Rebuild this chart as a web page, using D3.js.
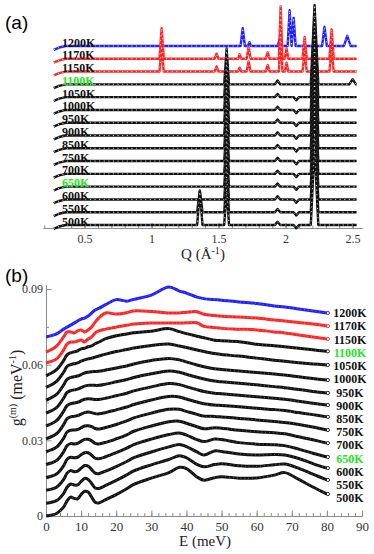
<!DOCTYPE html>
<html>
<head>
<meta charset="utf-8">
<script src="https://cdn.jsdelivr.net/npm/d3@7"></script>
<style>
  body { margin: 0; background: #fff; }
  svg { display: block; font-family: "Liberation Serif", "Times New Roman", serif; }
  .axis path, .axis line { stroke: #8c8c8c; stroke-width: 1; }
  .axis text { fill: #333; font-family: "Liberation Serif", serif; }
</style>
</head>
<body>
<main></main>
<script>
// temperatures, top curve first
const temps = ["1200K", "1170K", "1150K", "1100K", "1050K", "1000K", "950K", "900K", "850K", "750K", "700K", "650K", "600K", "550K", "500K"];
const highlight = ["1100K", "650K"];

// ---- panel (a): diffraction patterns, peaks as [Q, height, half width] ----
const qTail = [[0.27, -0.3], [0.31, -0.12], [0.36, 0]];
const qEnd = 2.53;
const offsetsA = [14, 13, 12, 11, 10, 9, 8, 7, 6, 5, 4, 3, 2, 1, 0];
const qTicks = [0.5, 1, 1.5, 2, 2.5];

const peaksBlue = [[1.68, 1.4, 0.016], [1.73, 0.3, 0.012], [1.955, 0.5, 0.015], [2.03, 2.8, 0.015], [2.06, 2.2, 0.015], [2.29, 1.5, 0.018], [2.46, 0.8, 0.025]];
const peaks1170 = [[1.075, 2.4, 0.016], [1.485, 0.4, 0.015], [1.657, 0.35, 0.012], [1.724, 0.9, 0.015], [1.866, 0.5, 0.015], [1.963, 4.1, 0.013], [2.007, 0.8, 0.013], [2.142, 1.7, 0.016], [2.343, 2.3, 0.016]];
const peaks1150 = [[1.075, 2.0, 0.016], [1.485, 0.4, 0.015], [1.657, 0.3, 0.012], [1.724, 0.8, 0.015], [1.866, 0.5, 0.015], [1.963, 3.2, 0.013], [2.007, 0.7, 0.013], [2.142, 1.5, 0.016], [2.343, 1.8, 0.016]];
const peaks1100 = [[1.56, 2.8, 0.018], [1.94, 0.3, 0.02], [2.216, 6.2, 0.028], [2.50, 0.4, 0.025]];
const peaksBlack = [[1.56, 2.8, 0.018], [1.94, 0.25, 0.02], [2.08, -0.25, 0.02], [2.216, 6.2, 0.028]];
const peaks550 = [[1.36, 1.7, 0.02], [1.56, 2.8, 0.018], [1.94, 0.25, 0.02], [2.08, -0.25, 0.02], [2.216, 6.2, 0.028]];
const peaks500 = [[1.36, 2.6, 0.02], [1.56, 2.8, 0.018], [1.94, 0.25, 0.02], [2.08, -0.25, 0.02], [2.216, 6.2, 0.028]];
const peaksA = [peaksBlue, peaks1170, peaks1150, peaks1100, peaksBlack, peaksBlack, peaksBlack, peaksBlack, peaksBlack, peaksBlack, peaksBlack, peaksBlack, peaksBlack, peaks550, peaks500];

// ---- panel (b): g(E) in 1e-3 meV^-1, before vertical offset ----
const eGrid = [0, 3, 5, 6, 7, 8, 9, 10, 11, 12, 13, 14, 15, 17, 20, 23, 25, 30, 35, 38, 40, 43, 45, 48, 50, 55, 60, 65, 68, 72, 76, 80];
const g1200 = [0, 1.2, 3.1, 3.9, 4.7, 5.5, 6.3, 7.1, 7.5, 8.3, 9.5, 10.7, 11.3, 12.8, 14.8, 14.2, 14.9, 16.6, 19.8, 18.2, 17.4, 15.8, 15.2, 14.8, 14.6, 13.9, 13.3, 12.3, 11.9, 11.1, 10.3, 9.5];
const g1170 = [0, 2.4, 6.0, 8.0, 8.0, 7.6, 8.4, 8.8, 8.0, 8.8, 9.9, 11.9, 13.5, 15.5, 15.1, 15.6, 16.3, 16.1, 15.5, 15.5, 15.8, 16.0, 15.0, 14.5, 14.2, 13.9, 13.5, 12.7, 12.3, 11.7, 11.1, 10.3];
const g1150 = [0, 1.6, 5.1, 7.5, 8.3, 8.3, 8.7, 9.1, 8.3, 9.5, 10.3, 11.9, 12.7, 13.4, 14.2, 14.9, 15.4, 15.8, 15.8, 15.8, 15.9, 15.9, 14.5, 14.0, 13.7, 13.4, 13.1, 12.3, 11.9, 11.1, 10.3, 9.5];
const g1100 = [0, 2.4, 6.0, 8.3, 9.1, 9.5, 9.9, 10.7, 10.9, 11.5, 11.9, 12.7, 13.3, 14.7, 15.9, 16.6, 17.1, 17.7, 18.7, 17.5, 16.7, 15.7, 15.1, 14.1, 13.9, 13.5, 12.5, 11.9, 11.5, 10.9, 10.3, 9.7];
const g1050 = [0, 2.4, 6.0, 8.3, 9.0, 9.4, 9.7, 10.4, 10.9, 11.3, 11.6, 12.0, 12.4, 13.2, 14.2, 15.0, 15.6, 16.6, 17.2, 16.4, 15.8, 14.8, 14.2, 13.4, 13.0, 12.4, 11.6, 10.8, 10.4, 9.8, 9.3, 8.9];
const g1000 = [0, 2.3, 6.0, 8.3, 9.0, 9.3, 9.6, 10.2, 10.8, 11.1, 11.3, 11.4, 11.5, 12.0, 12.8, 13.6, 14.4, 15.8, 16.6, 16.0, 15.2, 14.0, 13.3, 12.5, 12.2, 11.6, 11.0, 10.4, 10.0, 9.3, 8.6, 8.0];
const g950 = [0, 2.2, 5.9, 8.2, 8.9, 9.2, 9.5, 10.1, 10.7, 11.0, 11.0, 11.0, 11.0, 11.5, 12.4, 13.3, 14.1, 15.6, 16.7, 16.2, 15.4, 14.2, 13.5, 12.7, 12.4, 11.8, 11.2, 10.5, 10.1, 9.4, 8.6, 8.0];
const g900 = [0, 2.1, 5.8, 8.1, 8.8, 9.1, 9.4, 10.0, 10.6, 10.8, 10.7, 10.5, 10.5, 11.0, 12.0, 13.0, 13.9, 15.5, 16.8, 16.4, 15.6, 14.4, 13.7, 13.0, 12.8, 12.2, 11.6, 11.0, 10.6, 9.8, 9.0, 8.3];
const g850 = [0, 2.0, 5.6, 8.0, 8.7, 8.9, 9.2, 9.8, 10.4, 10.6, 10.4, 10.0, 9.9, 10.4, 11.5, 12.6, 13.6, 15.4, 16.8, 16.6, 15.8, 14.6, 13.9, 13.4, 13.2, 12.7, 12.1, 11.6, 11.2, 10.4, 9.6, 8.7];
const g750 = [0, 1.8, 5.3, 7.8, 8.5, 8.6, 8.8, 9.5, 10.2, 10.3, 9.9, 9.2, 9.0, 9.6, 10.8, 12.2, 13.4, 15.3, 16.8, 16.8, 16.0, 14.8, 14.1, 14.0, 13.8, 13.2, 12.6, 12.0, 11.6, 10.8, 9.8, 8.6];
const g700 = [0, 1.6, 5.0, 7.5, 8.3, 8.2, 8.4, 9.2, 10.0, 10.0, 9.4, 8.4, 8.2, 8.8, 10.2, 11.8, 13.2, 15.3, 17.0, 17.2, 16.4, 15.0, 14.2, 14.6, 14.4, 13.6, 13.0, 12.6, 12.2, 11.0, 9.8, 8.5];
const g650 = [0, 1.4, 4.6, 7.2, 8.0, 7.8, 8.0, 9.0, 9.8, 9.8, 8.8, 7.6, 7.4, 8.2, 9.8, 11.6, 13.0, 15.2, 17.0, 17.6, 16.8, 15.0, 14.2, 15.2, 15.0, 13.8, 13.2, 13.0, 12.6, 11.2, 9.6, 8.1];
const g600 = [0, 1.2, 4.2, 6.8, 7.8, 7.4, 7.6, 8.8, 9.8, 9.6, 8.2, 6.8, 6.6, 7.6, 9.4, 11.4, 12.9, 15.2, 17.2, 18.2, 17.3, 15.2, 14.0, 15.6, 15.4, 14.4, 14.0, 14.2, 14.0, 12.6, 10.6, 8.8];
const g550 = [0, 1.0, 3.8, 6.3, 7.6, 7.2, 7.2, 8.6, 9.8, 9.4, 7.8, 6.0, 5.8, 7.0, 9.0, 11.2, 12.8, 15.2, 17.3, 18.8, 18.0, 15.4, 14.4, 15.3, 15.6, 14.8, 14.6, 15.2, 15.5, 13.8, 11.5, 9.2];
const g500 = [0, 1.0, 3.5, 6.0, 7.5, 7.0, 6.8, 8.5, 9.8, 9.5, 7.5, 5.5, 5.2, 6.5, 8.5, 10.8, 12.5, 15.0, 17.2, 19.3, 18.8, 15.5, 14.2, 15.2, 15.6, 15.0, 15.1, 16.2, 17.2, 14.5, 11.5, 8.7];
const gSeries = [g1200, g1170, g1150, g1100, g1050, g1000, g950, g900, g850, g750, g700, g650, g600, g550, g500];
const offsetsB = [71.0, 65.0, 60.7, 55.6, 51.0, 45.9, 40.8, 35.7, 30.6, 25.5, 20.4, 15.3, 10.2, 5.1, 0];
const gTicks = [0, 30, 60, 90];
const gMinor = [15, 45, 75];
const eTicks = [0, 10, 20, 30, 40, 50, 60, 70, 80, 90];

const lineColor = (t) => t === "1200K" ? "#1f1fff" : (t === "1170K" || t === "1150K") ? "#ff2424" : "#111";
const labelColor = (t) => highlight.includes(t) ? "#22e622" : "#111";

let svg;

const createCanvas = () => {
  return d3.select("main")
           .append("svg")
           .attr("width", 374)
           .attr("height", 554)
           .style("background", "#fff");
};

// stick pattern: baseline with triangular peaks
const buildPattern = (peaks) => {
  const pts = qTail.slice();
  peaks.slice().sort((a, b) => a[0] - b[0]).forEach(([q, h, w]) => {
    pts.push([q - w, 0], [q, h], [q + w, 0]);
  });
  pts.push([qEnd, 0]);
  return pts;
};

const createPanelA = () => {
  const x = d3.scaleLinear().domain([0.19, 2.57]).range([43, 362]);
  const y = d3.scaleLinear().domain([0, 14]).range([225, 46]);
  const g = svg.append("g").attr("id", "panel-a");

  g.append("text")
    .attr("x", 5).attr("y", 29)
    .style("font-family", "'Liberation Sans', Arial, sans-serif")
    .style("font-size", "19px")
    .text("(a)");

  const axisY = 228;
  g.append("g")
    .attr("class", "axis")
    .attr("transform", "translate(0," + axisY + ")")
    .call(d3.axisBottom(x).ticks(24).tickSize(-2.5).tickSizeOuter(0).tickFormat(""));
  g.append("g")
    .attr("class", "axis")
    .attr("transform", "translate(0," + axisY + ")")
    .call(d3.axisBottom(x).tickValues(qTicks).tickSize(-5).tickSizeOuter(0).tickPadding(6).tickFormat(d3.format("")))
    .selectAll("text").style("font-size", "12px");

  const label = g.append("text")
    .attr("x", 203).attr("y", 259)
    .attr("text-anchor", "middle")
    .style("font-size", "15px")
    .style("fill", "#222");
  label.append("tspan").text("Q (Å");
  label.append("tspan").attr("dy", -5).style("font-size", "10px").text("-1");
  label.append("tspan").attr("dy", 5).text(")");

  const line = d3.line();
  temps.forEach((t, i) => {
    const pts = buildPattern(peaksA[i]);
    const path = line.x(d => x(d[0])).y(d => y(offsetsA[i] + d[1]))(pts);
    g.append("path").attr("d", path)
      .attr("fill", "none").attr("stroke", lineColor(t))
      .attr("stroke-width", 2.4).attr("stroke-linejoin", "round");
    g.append("path").attr("d", path)
      .attr("fill", "none").attr("stroke", "#fff")
      .attr("stroke-width", 0.9).attr("stroke-dasharray", "1.2 3.4")
      .attr("opacity", 0.85);
  });

  g.selectAll(".label-a")
    .data(temps)
    .enter()
    .append("text")
    .attr("class", "label-a")
    .attr("x", 62)
    .attr("y", (d, i) => y(offsetsA[i]) + 0.5)
    .style("font-size", "12px")
    .style("font-weight", "bold")
    .style("fill", labelColor)
    .text(d => d);
};

const createPanelB = () => {
  const x = d3.scaleLinear().domain([0, 90]).range([46, 362]);
  const y = d3.scaleLinear().domain([0, 91.6]).range([516, 285]);
  const g = svg.append("g").attr("id", "panel-b");

  g.append("text")
    .attr("x", 5).attr("y", 282)
    .style("font-family", "'Liberation Sans', Arial, sans-serif")
    .style("font-size", "19px")
    .text("(b)");

  // x axis
  g.append("g")
    .attr("class", "axis")
    .attr("transform", "translate(0,516)")
    .call(d3.axisBottom(x).ticks(45).tickSize(-3).tickSizeOuter(0).tickFormat(""));
  g.append("g")
    .attr("class", "axis")
    .attr("transform", "translate(0,516)")
    .call(d3.axisBottom(x).tickValues(eTicks).tickSize(-5.5).tickSizeOuter(0).tickPadding(6))
    .selectAll("text").style("font-size", "13px");

  // y axis
  g.append("g")
    .attr("class", "axis")
    .attr("transform", "translate(46,0)")
    .call(d3.axisLeft(y).tickValues(gMinor).tickSize(-3).tickSizeOuter(0).tickFormat(""));
  g.append("g")
    .attr("class", "axis")
    .attr("transform", "translate(46,0)")
    .call(d3.axisLeft(y).tickValues(gTicks).tickSize(-5.5).tickSizeOuter(0).tickPadding(3)
      .tickFormat(d => d === 0 ? "0" : (d / 1000).toFixed(2)))
    .selectAll("text").style("font-size", "12px");

  g.append("text")
    .attr("x", 205).attr("y", 546)
    .attr("text-anchor", "middle")
    .style("font-size", "15px")
    .style("fill", "#222")
    .text("E (meV)");

  const yl = g.append("text")
    .attr("transform", "translate(22,388) rotate(-90)")
    .attr("text-anchor", "middle")
    .style("font-size", "16px")
    .style("fill", "#222");
  yl.append("tspan").text("g");
  yl.append("tspan").attr("dy", -6).style("font-size", "10px").text("(m)");
  yl.append("tspan").attr("dy", 6).text(" (meV");
  yl.append("tspan").attr("dy", -6).style("font-size", "10px").text("-1");
  yl.append("tspan").attr("dy", 6).text(")");

  const line = d3.line().curve(d3.curveCatmullRom.alpha(0.5));
  temps.forEach((t, i) => {
    const pts = eGrid.map((e, j) => [e, offsetsB[i] + gSeries[i][j]]);
    const path = line.x(d => x(d[0])).y(d => y(d[1]))(pts);
    g.append("path").attr("d", path)
      .attr("fill", "none").attr("stroke", lineColor(t))
      .attr("stroke-width", 3).attr("stroke-linejoin", "round");
    g.append("path").attr("d", path)
      .attr("fill", "none").attr("stroke", "#fff")
      .attr("stroke-width", 0.7).attr("stroke-dasharray", "0.8 3")
      .attr("opacity", 0.55);
    const last = pts[pts.length - 1];
    g.append("circle")
      .attr("cx", x(last[0]) + 1).attr("cy", y(last[1]))
      .attr("r", 1.6)
      .attr("fill", "#fff").attr("stroke", lineColor(t)).attr("stroke-width", 0.9);
  });

  // labels stacked evenly, from the top curve's end down to the bottom one's
  const first = y(offsetsB[0] + g1200[g1200.length - 1]);
  const lastY = y(offsetsB[14] + g500[g500.length - 1]) + 4;
  const labelY = d3.scaleLinear().domain([0, temps.length - 1]).range([first, lastY]);

  g.selectAll(".label-b")
    .data(temps)
    .enter()
    .append("text")
    .attr("class", "label-b")
    .attr("x", 350)
    .attr("y", (d, i) => labelY(i))
    .attr("dy", "0.35em")
    .attr("text-anchor", "middle")
    .style("font-size", "12px")
    .style("font-weight", "bold")
    .style("fill", labelColor)
    .text(d => d);
};

const driver = () => {
  svg = createCanvas();
  createPanelA();
  createPanelB();
};

driver();
</script>
</body>
</html>
